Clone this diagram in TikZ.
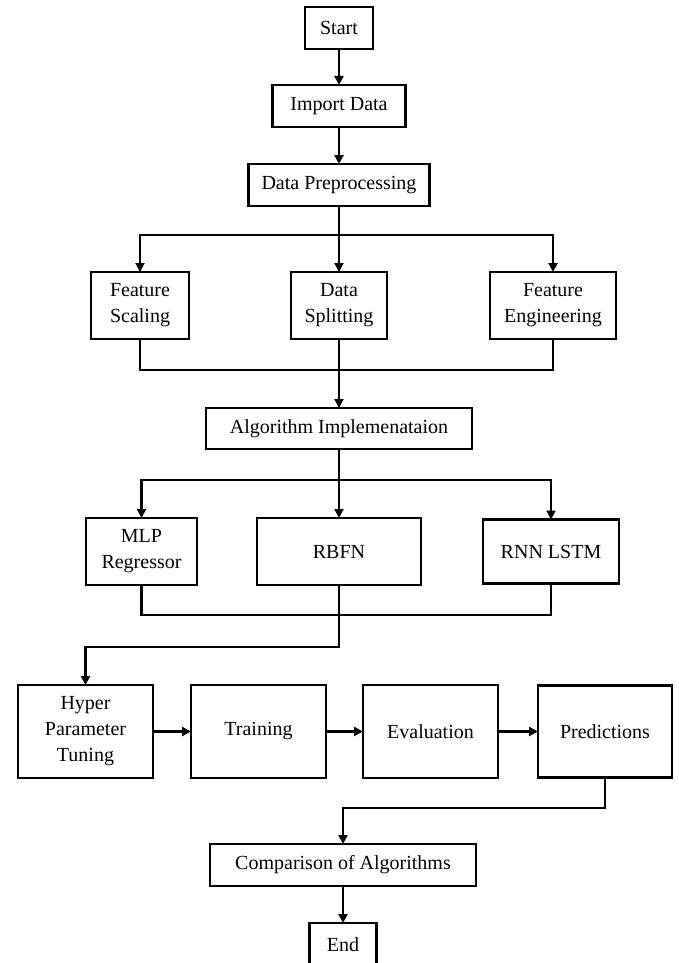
\documentclass[tikz,border=0pt]{standalone}
\usepackage{fontspec}
\setmainfont{Liberation Serif}
\usepackage{tikz}
\usetikzlibrary{arrows.meta,positioning}

\begin{document}
\begin{tikzpicture}[x=0.5pt,y=-0.5pt,>={Triangle[length=4.5pt,width=4.5pt]},
                    line width=1.1pt,font=\fontsize{10}{13}\selectfont]
  \tikzstyle{box}=[draw,line width=1.4pt,align=center,inner sep=0pt,outer sep=0pt]
  \useasboundingbox (0,0) rectangle (679,963);

  \node[box,minimum width=34pt,minimum height=21pt] (start) at (339,28) {Start};
  \node[box,minimum width=66.5pt,minimum height=21pt] (import) [below=18pt of start] {Import Data};
  \node[box,minimum width=90.5pt,minimum height=21pt] (prep) [below=18.5pt of import] {Data Preprocessing};

  \node[box,minimum width=48pt,minimum height=33.5pt] (dsplit) [below=33pt of prep] {Data\\Splitting};
  \node[box,minimum width=49pt,minimum height=33.5pt] (fscale) [left=51pt of dsplit] {Feature\\Scaling};
  \node[box,minimum width=63pt,minimum height=33.5pt] (feng) [right=51.5pt of dsplit] {Feature\\Engineering};

  \node[box,minimum width=133pt,minimum height=20.5pt] (algo) [below=34.5pt of dsplit] {Algorithm Implemenataion};

  \node[box,minimum width=82pt,minimum height=33.5pt] (rbfn) [below=34.5pt of algo] {RBFN};
  \node[box,minimum width=55.5pt,minimum height=33.5pt] (mlp) [left=30pt of rbfn] {MLP\\Regressor};
  \node[box,minimum width=68pt,minimum height=32pt] (rnn) [right=31pt of rbfn] {RNN LSTM};

  \node[box,minimum width=67.5pt,minimum height=46.5pt] (hyper) at (85.5,731.5) {Hyper\\Parameter\\Tuning};
  \node[box,minimum width=67.5pt,minimum height=46.5pt] (train) [right=19pt of hyper] {Training};
  \node[box,minimum width=67.5pt,minimum height=46.5pt] (eval) [right=18.5pt of train] {Evaluation};
  \node[box,minimum width=67pt,minimum height=46pt] (pred) [right=20pt of eval] {Predictions};

  \node[box,minimum width=133pt,minimum height=21pt] (comp) at (343,865) {Comparison of Algorithms};
  \node[box,minimum width=33.5pt,minimum height=21.5pt] (end) [below=18.5pt of comp] {End};

  % branch and join points
  \coordinate (split1) at (dsplit |- 0,235);
  \coordinate (join1) at (dsplit |- 0,370);
  \coordinate (split2) at (rbfn |- 0,480);
  \coordinate (join2) at (rbfn |- 0,615);
  \coordinate (turn1) at (hyper |- 0,647);
  \coordinate (turn2) at (comp |- 0,808);

  \draw[->] (start) -- (import);
  \draw[->] (import) -- (prep);
  \draw[->] (prep) -- (dsplit);
  \draw[->] (split1) -| (fscale);
  \draw[->] (split1) -| (feng);
  \draw (fscale) |- (join1) -| (feng);
  \draw[->] (dsplit) -- (algo);
  \draw[->] (algo) -- (rbfn);
  \draw[->] (split2) -| (mlp);
  \draw[->] (split2) -| (rnn);
  \draw (mlp) |- (join2) -| (rnn);
  \draw[->] (rbfn) |- (turn1) -- (hyper);
  \draw[->] (hyper) -- (train);
  \draw[->] (train) -- (eval);
  \draw[->] (eval) -- (pred);
  \draw[->] (pred) |- (turn2) -- (comp);
  \draw[->] (comp) -- (end);
\end{tikzpicture}
\end{document}
